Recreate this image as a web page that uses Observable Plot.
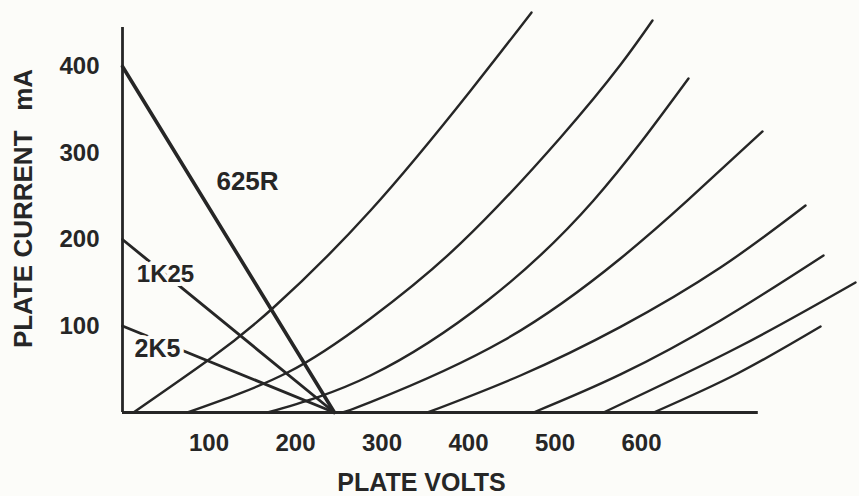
<!DOCTYPE html>
<html>
<head>
<meta charset="utf-8">
<script src="https://cdn.jsdelivr.net/npm/d3@7"></script>
<script src="https://cdn.jsdelivr.net/npm/@observablehq/plot@0.6"></script>
<style>
  html, body { margin: 0; padding: 0; background: #fcfcf9; }
  #chart { width: 859px; height: 496px; }
</style>
</head>
<body>
<div id="chart"></div>
<script>
// Tick labels
const xTicks = [100, 200, 300, 400, 500, 600];
const yTicks = [100, 200, 300, 400];

// Plate characteristic curves: [plate volts, plate current mA]
const curve1 = [[12.7, 0], [101.7, 62.4], [174.6, 121.4], [286.7, 233.5], [402.3, 372], [472.8, 462.4]];
const curve2 = [[75.1, 0], [190.8, 46.2], [286.7, 108.7], [390.8, 195.4], [506.4, 318], [575.7, 402], [612.7, 453.2]];
const curve3 = [[167.6, 0], [286.7, 42.8], [422, 129.5], [544.5, 245.1], [654.3, 386.1]];
const curve4 = [[252, 0], [286.7, 12], [440.5, 83.2], [575.7, 178], [653.2, 245.1], [739.9, 324.9]];
const curve5 = [[352.6, 0], [460.1, 42.8], [575.7, 99], [691.3, 167.6], [789.6, 239.3]];
const curve6 = [[475.1, 0], [575.7, 44], [691.3, 106.4], [810.4, 181.5]];
const curve7 = [[556, 0], [711, 75.1], [847.4, 150.3]];
const curve8 = [[614, 0], [711, 45.1], [807, 99.4]];
const curves = [curve1, curve2, curve3, curve4, curve5, curve6, curve7, curve8];

// Load lines
const loadNames = ["625R", "1K25", "2K5"];
const load625R = [[0, 400], [245, 0]];
const load1K25 = [[0, 200], [245, 0]];
const load2K5 = [[0, 100], [245, 0]];

// Axis extents
const xAxisEnd = 735;
const yAxisEnd = 445;

const ink = "#262626";
const paper = "#fcfcf9";
const font = "'Liberation Sans', Arial, Helvetica, sans-serif";

const chart = Plot.plot({
  width: 859,
  height: 496,
  marginLeft: 122,
  marginRight: 0,
  marginTop: 0,
  marginBottom: 84,
  x: { domain: [0, 852] },
  y: { domain: [0, 476.3] },
  style: { fontFamily: font, background: paper, color: ink, overflow: "visible" },
  marks: [
    Plot.axisX(xTicks, { tickSize: 0, tickPadding: 21, fontSize: 24, fontWeight: "bold", label: null }),
    Plot.axisY(yTicks, { tickSize: 0, tickPadding: 23, fontSize: 24, fontWeight: "bold", label: null }),
    Plot.ruleX([0], { y1: 0, y2: yAxisEnd, stroke: ink, strokeWidth: 2.8 }),
    Plot.ruleY([0], { x1: 0, x2: xAxisEnd, stroke: ink, strokeWidth: 2.8 }),
    ...curves.map(c => Plot.line(c, { x: d => d[0], y: d => d[1], curve: "natural", stroke: ink, strokeWidth: 2.4 })),
    Plot.line(load625R, { x: d => d[0], y: d => d[1], stroke: ink, strokeWidth: 3.6 }),
    Plot.line(load1K25, { x: d => d[0], y: d => d[1], stroke: ink, strokeWidth: 2.9 }),
    Plot.line(load2K5, { x: d => d[0], y: d => d[1], stroke: ink, strokeWidth: 2.9 }),
    Plot.text([loadNames[0]], { x: () => 144.5, y: () => 267, text: d => d, fontSize: 26, fontWeight: "bold", fill: ink }),
    Plot.text([loadNames[1]], { x: () => 49.7, y: () => 159.5, text: d => d, fontSize: 24, fontWeight: "bold", fill: ink, stroke: paper, strokeWidth: 8 }),
    Plot.text([loadNames[2]], { x: () => 40.5, y: () => 73.4, text: d => d, fontSize: 25, fontWeight: "bold", fill: ink, stroke: paper, strokeWidth: 8 }),
    Plot.text(["PLATE VOLTS"], { x: () => 345.7, y: () => -82, text: d => d, fontSize: 25, fontWeight: "bold", fill: ink }),
    Plot.text(["PLATE CURRENT\u00a0\u00a0\u2009mA"], { x: () => -114.5, y: () => 235.8, text: d => d, rotate: -90, fontSize: 26, fontWeight: "bold", fill: ink })
  ]
});
document.getElementById("chart").appendChild(chart);
</script>
</body>
</html>
